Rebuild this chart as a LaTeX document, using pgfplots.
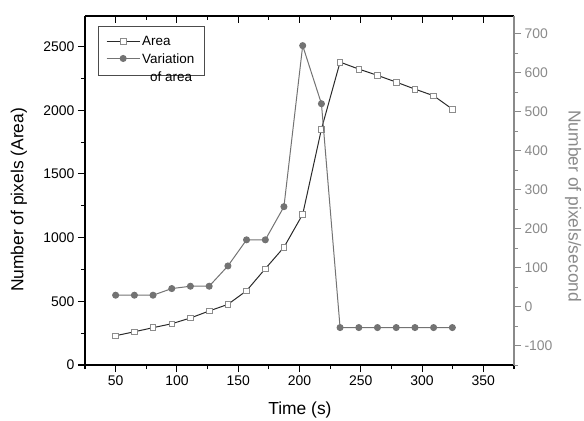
\documentclass[border=0pt]{standalone}
\usepackage{pgfplots}
\pgfplotsset{compat=1.18}
\usepackage{fontspec}
\setmainfont{Liberation Sans}
\definecolor{vargray}{HTML}{737373}
\definecolor{axgray}{HTML}{8A8A8A}
\definecolor{sqgray}{HTML}{8C8C8C}
\definecolor{arealine}{HTML}{2A2A2A}
\pgfplotstableread{
t area
50.0 230
65.3 261
80.5 293
95.8 324
111.0 369
126.3 424
141.6 476
156.8 583
172.1 756
187.3 924
202.6 1183
217.9 1852
233.1 2378
248.4 2323
263.6 2274
278.9 2221
294.2 2166
309.4 2114
324.7 2009
}\areatable
\pgfplotstableread{
t var
50.0 29
65.3 29
80.5 29
95.8 46
111.0 52
126.3 52
141.6 104
156.8 171
172.1 171
187.3 256
202.6 669
217.9 520
233.1 -54
248.4 -54
263.6 -54
278.9 -54
294.2 -54
309.4 -54
324.7 -54
}\vartable
\begin{document}
\begin{tikzpicture}[font=\fontsize{13}{15}\selectfont]
\pgfplotsset{
  every axis/.append style={
    scale only axis, width=429bp, height=349bp,
    xmin=25, xmax=375,
    /pgf/number format/assume math mode=true,
    /pgf/number format/1000 sep={},
    tick label style={font=\fontsize{14}{16}\selectfont},
    major tick length=7bp, minor tick length=4bp,
  },
}
\begin{axis}[
  name=ax,
  axis x line*=bottom, axis y line*=left,
  axis line style={line width=1.3bp, -},
  tick style={line width=1.1bp, black},
  tick align=outside,
  ymin=0, ymax=2740,
  xtick={50,100,...,350}, minor xtick={25,75,...,375},
  ytick={0,500,...,2500}, minor ytick={250,750,...,2750},
  xlabel={Time (s)}, ylabel={Number of pixels (Area)},
  every axis y label/.style={at={(axis description cs:-0.154,0.473)}, rotate=90, anchor=center, font=\fontsize{17.5}{20}\selectfont},
  every axis x label/.style={at={(axis description cs:0.501,-0.13)}, anchor=center, font=\fontsize{17.5}{20}\selectfont},
]
\addplot[arealine, line width=1bp, mark=square*, mark size=2.8bp,
  mark options={fill=white, draw=sqgray, line width=0.8bp}] table[x=t,y=area] {\areatable};
\end{axis}
% top axis with inward ticks
\begin{axis}[
  axis x line*=top, axis y line=none,
  axis line style={line width=1.3bp, -},
  tick style={line width=1.1bp, black},
  tick align=inside,
  ymin=0, ymax=2740,
  xtick={50,100,...,350}, minor xtick={25,75,...,375},
  xticklabels={},
]
\addplot[draw=none] coordinates {(50,0)};
\end{axis}
\begin{axis}[
  axis x line=none, axis y line*=right,
  axis line style={line width=1.1bp, axgray, -},
  y tick label style={text=axgray},
  tick style={line width=0.9bp, axgray},
  tick align=outside,
  ymin=-150, ymax=745,
  ytick={-100,0,...,700}, minor ytick={-150,-50,...,750},
  ylabel={Number of pixels/second},
  every axis y label/.style={at={(axis description cs:1.138,0.455)}, rotate=-90, anchor=center, text=axgray, font=\fontsize{17.5}{20}\selectfont},
  legend style={at={(axis description cs:0.03,0.972)}, anchor=north west,
    draw=black!70, line width=0.6bp, inner xsep=8bp, inner ysep=8bp,
    font=\fontsize{13.5}{17}\selectfont, cells={anchor=west}, row sep=1bp},
  legend image code/.code={\draw[mark repeat=2, mark phase=2, #1] plot coordinates {(0bp,0bp) (16.5bp,0bp) (33bp,0bp)};},
]
\addlegendimage{arealine, line width=1bp, mark=square*, mark size=2.8bp,
  mark options={fill=white, draw=sqgray, line width=0.8bp}}
\addlegendentry{Area}
\addplot[vargray, line width=1bp, mark=*, mark size=3bp,
  mark options={fill=vargray, draw=vargray}] table[x=t,y=var] {\vartable};
\addlegendentry{\begin{tabular}[t]{@{}l@{}}Variation\\[1pt]\hspace{8bp}of area\hspace{10bp}\end{tabular}}
\end{axis}
\pgfresetboundingbox
\path[use as bounding box] ([shift={(-85bp,-56bp)}]ax.south west) rectangle ([shift={(70bp,16bp)}]ax.north east);
\end{tikzpicture}
\end{document}
